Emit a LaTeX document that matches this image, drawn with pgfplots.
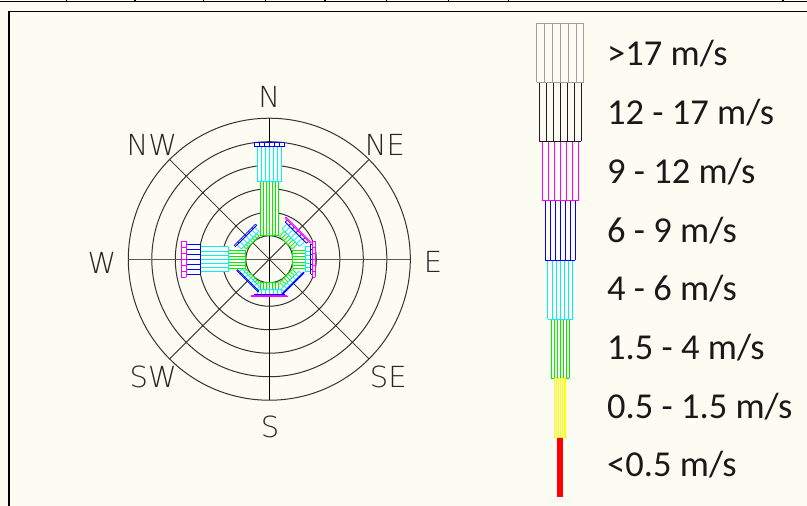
\documentclass[border=0pt]{standalone}
\usepackage{pgfplots}
\pgfplotsset{compat=1.18}
\usepackage{pgfplotstable}
\usepackage{fontspec}
\setmainfont{Carlito}
\newfontfamily\cad{DejaVuSans-ExtraLight.ttf}
\definecolor{bg}{RGB}{253,252,242}
\definecolor{wred}{RGB}{255,0,0}
\definecolor{wyellow}{RGB}{255,255,0}
\definecolor{wgreen}{RGB}{0,240,0}
\definecolor{wcyan}{RGB}{0,240,255}
\definecolor{wblue}{RGB}{0,0,255}
\definecolor{wmagenta}{RGB}{255,0,255}
\definecolor{wblack}{RGB}{30,30,30}
\definecolor{wgray}{RGB}{160,160,160}

% columns: cx cy = origin, ang = direction (deg), r1 r2 = start/end along direction (ring units)
\pgfplotstableread{
cx cy ang r1 r2
12.38 0 90 -10.11 -7.59
}\tRed
\pgfplotstableread{
cx cy ang r1 r2
12.38 0 90 -7.59 -5.07
}\tYellow
\pgfplotstableread{
cx cy ang r1 r2
0 0 90 1 3.31
0 0 45 1 1.30
0 0 0 1 1.53
0 0 -45 1 1.25
0 0 -90 1 1.30
0 0 -135 1 1.12
0 0 180 1 1.75
0 0 135 1 1.15
12.38 0 90 -5.07 -2.55
}\tGreen
\pgfplotstableread{
cx cy ang r1 r2
0 0 90 3.31 4.78
0 0 45 1.30 1.60
0 0 0 1.53 1.76
0 0 -45 1.25 1.42
0 0 -90 1.30 1.48
0 0 -135 1.12 1.27
0 0 180 1.75 2.93
0 0 135 1.15 1.40
12.38 0 90 -2.55 -0.03
}\tCyan
\pgfplotstableread{
cx cy ang r1 r2
0 0 90 4.78 4.95
0 0 45 1.60 1.72
0 0 0 1.76 1.85
0 0 -45 1.42 1.46
0 0 -90 1.48 1.55
0 0 -135 1.27 1.32
0 0 180 2.93 3.53
0 0 135 1.40 1.47
12.38 0 90 -0.03 2.49
}\tBlue
\pgfplotstableread{
cx cy ang r1 r2
0 0 45 1.72 1.77
0 0 0 1.85 1.95
0 0 -90 1.55 1.60
0 0 180 3.53 3.74
12.38 0 90 2.49 5.01
}\tMagenta
\pgfplotstableread{
cx cy ang r1 r2
12.38 0 90 5.01 7.53
}\tBlack
\pgfplotstableread{
cx cy ang r1 r2
12.38 0 90 7.53 10.05
}\tGray

% #1 table, #2 colour, #3 bar width (ring units)
\newcommand\windseg[3]{%
  \addplot[draw=bg, line width=#3*23.5pt,
    quiver={u={(\thisrow{r2}-\thisrow{r1})*cos(\thisrow{ang})},v={(\thisrow{r2}-\thisrow{r1})*sin(\thisrow{ang})}}]
    table[x expr={\thisrow{cx}+\thisrow{r1}*cos(\thisrow{ang})},
          y expr={\thisrow{cy}+\thisrow{r1}*sin(\thisrow{ang})}]{#1};
  \pgfplotsinvokeforeach{-3,-2,-1,0,1,2,3}{%
    \addplot[draw=#2, line width=0.7pt,
      quiver={u={(\thisrow{r2}-\thisrow{r1})*cos(\thisrow{ang})},v={(\thisrow{r2}-\thisrow{r1})*sin(\thisrow{ang})}}]
      table[x expr={\thisrow{cx}+\thisrow{r1}*cos(\thisrow{ang})-(##1)*#3/6*sin(\thisrow{ang})},
            y expr={\thisrow{cy}+\thisrow{r1}*sin(\thisrow{ang})+(##1)*#3/6*cos(\thisrow{ang})}]{#1};
  }
  \addplot[draw=#2, line width=0.8pt,
    quiver={u={-#3*sin(\thisrow{ang})},v={#3*cos(\thisrow{ang})}}]
    table[x expr={\thisrow{cx}+\thisrow{r1}*cos(\thisrow{ang})+#3/2*sin(\thisrow{ang})},
          y expr={\thisrow{cy}+\thisrow{r1}*sin(\thisrow{ang})-#3/2*cos(\thisrow{ang})}]{#1};
  \addplot[draw=#2, line width=0.8pt,
    quiver={u={-#3*sin(\thisrow{ang})},v={#3*cos(\thisrow{ang})}}]
    table[x expr={\thisrow{cx}+\thisrow{r2}*cos(\thisrow{ang})+#3/2*sin(\thisrow{ang})},
          y expr={\thisrow{cy}+\thisrow{r2}*sin(\thisrow{ang})-#3/2*cos(\thisrow{ang})}]{#1};
}

\begin{document}
\begin{tikzpicture}
\begin{axis}[
  scale only axis, width=807pt, height=506pt,
  xmin=-11.46, xmax=22.88, ymin=-10.50, ymax=11.03,
  axis lines=none, clip=false]
  \fill[bg] (rel axis cs:0,0) rectangle (rel axis cs:1,1);
  \coordinate (BL) at (rel axis cs:0,0);
  \coordinate (TR) at (rel axis cs:1,1);
  % frame
  \draw[line width=1.6pt] (rel axis cs:0,0.997) -- (rel axis cs:1,0.997);
  \pgfplotsinvokeforeach{0.0827,0.1673,0.2519,0.3292,0.4027,0.4792,0.5555,0.6299,0.9703}{%
    \draw[line width=1.2pt] (rel axis cs:#1,0.997) -- (rel axis cs:#1,1);}
  \draw[line width=1.5pt] (rel axis cs:1,0.9773) -- (rel axis cs:0.0112,0.9773) -- (rel axis cs:0.0112,0);
  % rose grid
  \pgfplotsinvokeforeach{1,...,6}{%
    \draw[black!80, line width=1pt] (axis cs:0,0) circle[radius=#1*23.5pt];}
  \pgfplotsinvokeforeach{45,135,225,315}{%
    \draw[black!85, line width=0.8pt] (axis cs:0,0) -- ++(#1:141pt);}
  \draw[black, line width=0.8pt] (axis cs:0,6) -- (axis cs:0,-6);
  \draw[black!65, line width=1.3pt] (axis cs:-6,0) -- (axis cs:6,0);
  % bars
  \windseg{\tGreen}{wgreen}{0.77}
  \windseg{\tCyan}{wcyan}{1.06}
  \windseg{\tBlue}{wblue}{1.28}
  \windseg{\tMagenta}{wmagenta}{1.53}
  \windseg{\tYellow}{wyellow}{0.47}
  \windseg{\tBlack}{wblack}{1.79}
  \windseg{\tGray}{wgray}{2.0}
  \addplot[draw=wred, line width=6pt,
    quiver={u={(\thisrow{r2}-\thisrow{r1})*cos(\thisrow{ang})},v={(\thisrow{r2}-\thisrow{r1})*sin(\thisrow{ang})}}]
    table[x expr={\thisrow{cx}+\thisrow{r1}*cos(\thisrow{ang})},
          y expr={\thisrow{cy}+\thisrow{r1}*sin(\thisrow{ang})}]{\tRed};
  % direction labels
  \begin{scope}[every node/.style={inner sep=0pt, font=\cad\fontsize{29}{29}\selectfont, text=black!85}]
    \node at (axis cs:0,6.91) {N};
    \node at (axis cs:4.92,4.86) {NE};
    \node at (axis cs:6.97,-0.11) {E};
    \node at (axis cs:5.06,-5.0) {SE};
    \node at (axis cs:0.03,-7.14) {S};
    \node at (axis cs:-4.94,-5.0) {SW};
    \node at (axis cs:-7.12,-0.16) {W};
    \node at (axis cs:-5.0,4.86) {NW};
  \end{scope}
  % legend texts
  \begin{scope}[every node/.style={inner sep=0pt, anchor=base west, font=\fontsize{36.5}{36.5}\selectfont, text=black!90}]
    \node at (axis cs:14.37,8.226) {>17 m/s};
    \node at (axis cs:14.37,5.728) {12 - 17 m/s};
    \node at (axis cs:14.37,3.230) {9 - 12 m/s};
    \node at (axis cs:14.37,0.732) {6 - 9 m/s};
    \node at (axis cs:14.37,-1.766) {4 - 6 m/s};
    \node at (axis cs:14.37,-4.264) {1.5 - 4 m/s};
    \node at (axis cs:14.37,-6.762) {0.5 - 1.5 m/s};
    \node at (axis cs:14.37,-9.260) {<0.5 m/s};
  \end{scope}
\end{axis}
\pgfresetboundingbox
\useasboundingbox (BL) rectangle (TR);
\end{tikzpicture}
\end{document}
